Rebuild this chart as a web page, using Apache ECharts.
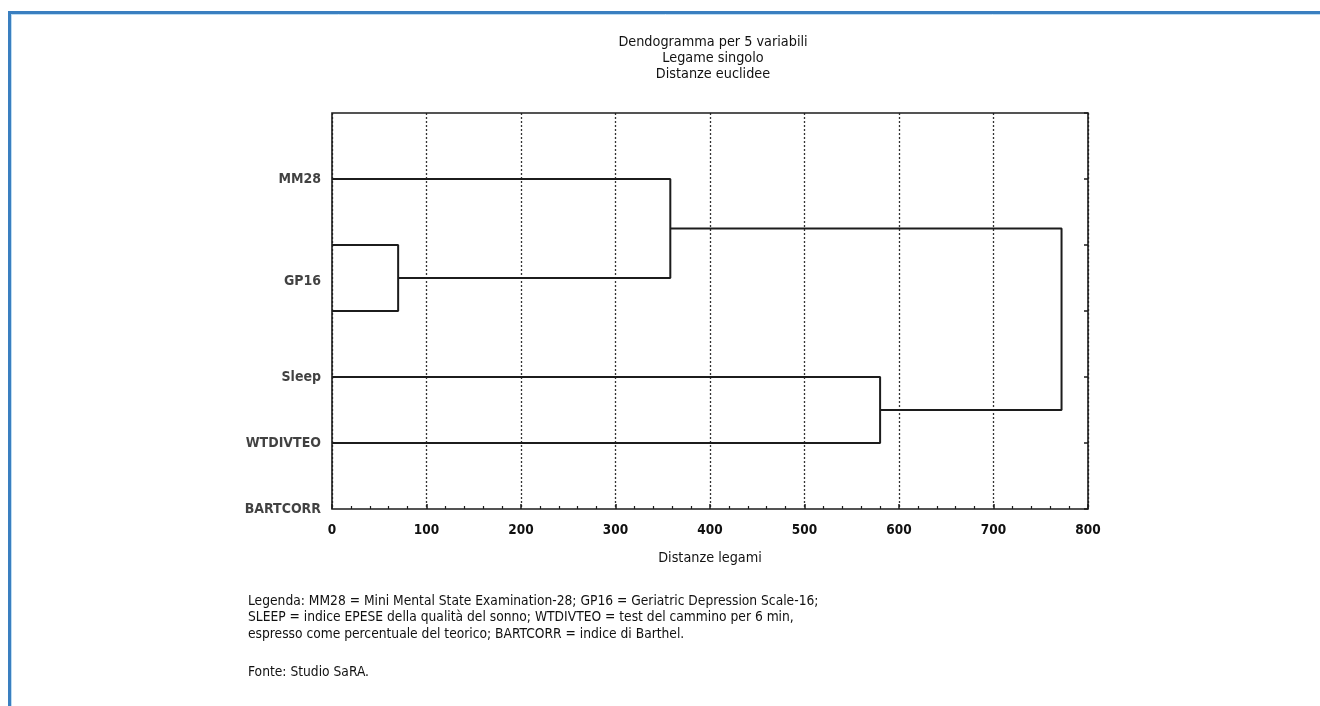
<!DOCTYPE html>
<html>
<head>
<meta charset="utf-8">
<style>
html,body{margin:0;padding:0;background:#fff;}
#chart{width:1320px;height:706px;}
</style>
<script src="https://cdn.jsdelivr.net/npm/echarts@6/dist/echarts.min.js"></script>
</head>
<body>
<div id="chart"></div>
<script>
// ---- data ----
const titleLines = ['Dendogramma per 5 variabili', 'Legame singolo', 'Distanze euclidee'];
const leafNames = ['MM28', 'GP16', 'Sleep', 'WTDIVTEO', 'BARTCORR'];
const labelRows = [1, 2.55, 4, 5, 6];        // where the names are printed (row units)
const leafRows = [1, 2, 3, 4, 5];            // rows of the drawn leaves
const mergeA = [1, 0, 3, 6];                 // node indices (0-4 leaves, 5+ clusters)
const mergeB = [2, 5, 4, 7];
const mergeDist = [70, 358, 580, 772];       // linkage distances
const xMin = 0, xMax = 800, xStep = 100;
const rowMin = 0, rowMax = 6;
const xTitle = 'Distanze legami';
const noteLines = [
  'Legenda: MM28 = Mini Mental State Examination-28; GP16 = Geriatric Depression Scale-16;',
  'SLEEP = indice EPESE della qualità del sonno; WTDIVTEO = test del cammino per 6 min,',
  'espresso come percentuale del teorico; BARTCORR = indice di Barthel.'
];
const sourceLine = 'Fonte: Studio SaRA.';

// ---- build dendrogram links ----
const nodes = leafRows.map(r => ({ x: 0, y: r }));
const linkSeries = [];
for (let i = 0; i < mergeDist.length; i++) {
  const a = nodes[mergeA[i]], b = nodes[mergeB[i]], h = mergeDist[i];
  linkSeries.push({
    type: 'line', symbol: 'none', silent: true, animation: false, clip: false,
    lineStyle: { color: '#1c1c1c', width: 2 },
    data: [[a.x, a.y], [h, a.y], [h, b.y], [b.x, b.y]],
    z: 5
  });
  nodes.push({ x: h, y: (a.y + b.y) / 2 });
}

const FONT = '"DejaVu Sans Condensed", "DejaVu Sans", sans-serif';
const chart = echarts.init(document.getElementById('chart'), null, { renderer: 'canvas' });

const graphics = [
  { type: 'line', shape: { x1: 8, y1: 12.5, x2: 1320, y2: 12.5 }, style: { stroke: '#3a7fc0', lineWidth: 3 } },
  { type: 'line', shape: { x1: 9.5, y1: 11, x2: 9.5, y2: 706 }, style: { stroke: '#3a7fc0', lineWidth: 3 } },
  { type: 'line', shape: { x1: 11, y1: 14.5, x2: 1320, y2: 14.5 }, style: { stroke: '#bcdcf2', lineWidth: 1 } },
  { type: 'line', shape: { x1: 11.5, y1: 14, x2: 11.5, y2: 706 }, style: { stroke: '#bcdcf2', lineWidth: 1 } }
];
titleLines.forEach((t, i) => graphics.push({
  type: 'text', x: 713, y: 42 + i * 16,
  style: { text: t, font: '14.3px ' + FONT, fill: '#111', textAlign: 'center', textVerticalAlign: 'middle' }
}));
noteLines.forEach((t, i) => graphics.push({
  type: 'text', x: 248, y: 601 + i * 16.5,
  style: { text: t, font: '13.7px ' + FONT, fill: '#111', textAlign: 'left', textVerticalAlign: 'middle' }
}));
graphics.push({
  type: 'text', x: 248, y: 672,
  style: { text: sourceLine, font: '13.7px ' + FONT, fill: '#111', textAlign: 'left', textVerticalAlign: 'middle' }
});

const option = {
  backgroundColor: '#fff',
  animation: false,
  graphic: graphics,
  grid: { left: 332, width: 756, top: 113, height: 396, show: true, borderColor: '#1c1c1c', borderWidth: 1.6, backgroundColor: 'transparent', z: 6 },
  xAxis: {
    type: 'value', min: xMin, max: xMax, interval: xStep, position: 'bottom',
    name: xTitle, nameLocation: 'middle', nameGap: 42,
    nameTextStyle: { fontFamily: FONT, fontSize: 14.3, color: '#111' },
    axisLine: { show: false, onZero: false },
    axisTick: { show: true, inside: true, length: 5, lineStyle: { color: '#1c1c1c', width: 1.5 } },
    minorTick: { show: true, splitNumber: 5, length: 3, lineStyle: { color: '#1c1c1c', width: 1.2 } },
    axisLabel: { fontFamily: FONT, fontSize: 13.5, fontWeight: 'bold', color: '#111', margin: 14 },
    splitLine: { show: true, lineStyle: { color: '#333', type: [2, 2], width: 1.3 } }
  },
  yAxis: {
    type: 'value', min: rowMin, max: rowMax, interval: 1, inverse: true, position: 'right',
    axisLine: { show: false, onZero: false },
    axisTick: { show: true, inside: true, length: 4, lineStyle: { color: '#1c1c1c', width: 1.5 } },
    axisLabel: { show: false },
    splitLine: { show: false }
  },
  series: linkSeries.concat([{
    type: 'scatter', symbolSize: 0, silent: true, clip: false, animation: false,
    data: leafNames.map((n, i) => ({ name: n, value: [xMin, labelRows[i]] })),
    label: {
      show: true, position: 'left', distance: 11, formatter: p => p.name,
      fontFamily: FONT, fontSize: 14, fontWeight: 'bold', color: '#111'
    }
  }])
};
chart.setOption(option);
</script>
</body>
</html>
